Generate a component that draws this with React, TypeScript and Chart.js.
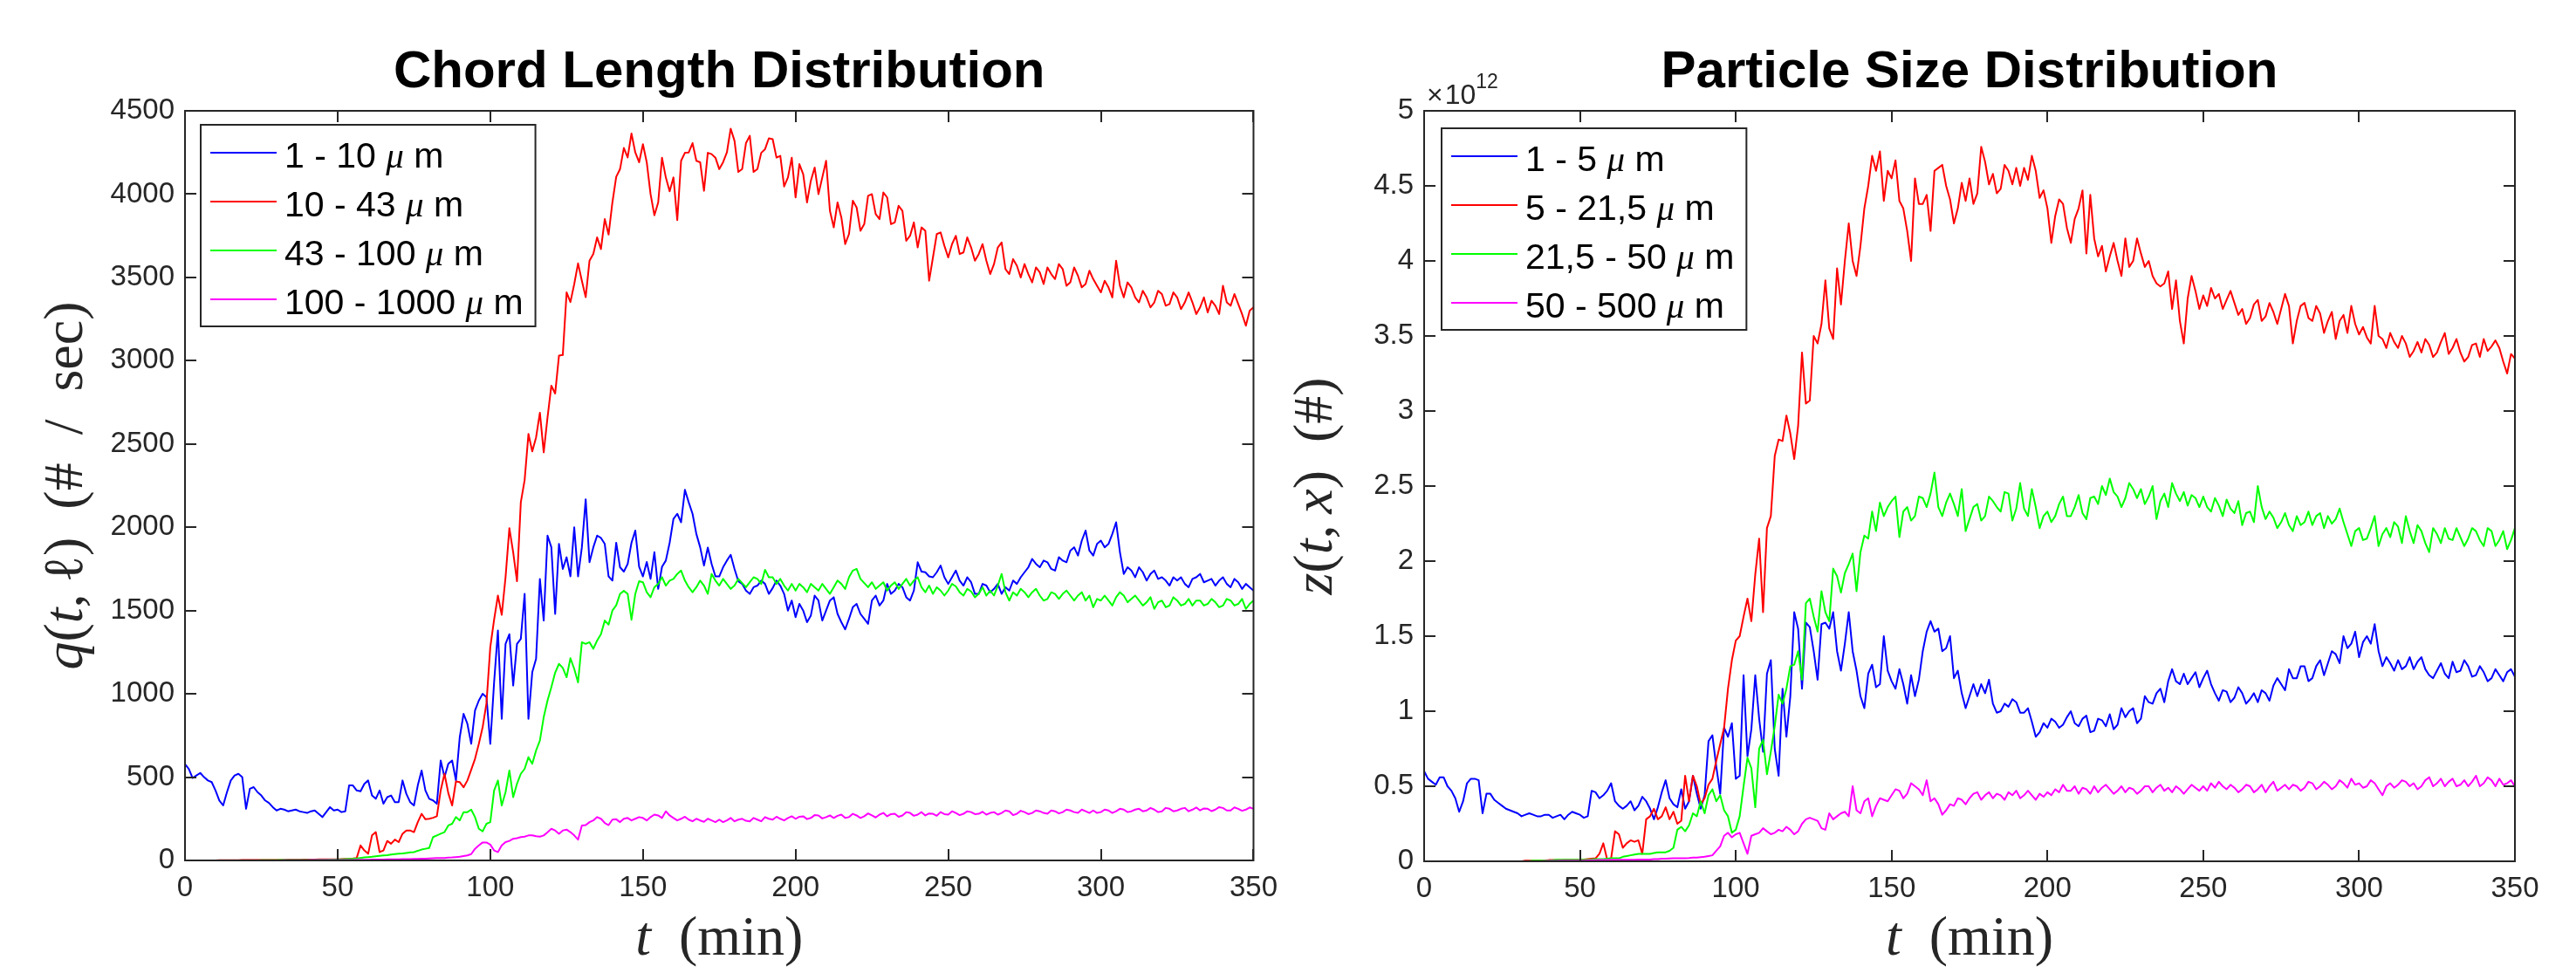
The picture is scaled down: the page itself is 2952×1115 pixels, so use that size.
import React, { useEffect, useRef } from 'react';
import { Chart, registerables } from 'chart.js';

Chart.register(...registerables);

// ---------- data ----------
// main sampling grid (min)
const TIME = [
  0, 2.5, 5, 7.5, 10, 12.5, 15, 17.5, 20, 22.5,
  25, 27.5, 30, 32.5, 35, 37.5, 40, 42.5, 45, 47.5,
  50, 52.5, 55, 57.5, 60, 62.5, 65, 67.5, 70, 72.5,
  75, 77.5, 80, 82.5, 85, 87.5, 90, 92.5, 95, 97.5,
  100, 102.5, 105, 107.5, 110, 112.5, 115, 117.5, 120, 122.5,
  125, 127.5, 130, 132.5, 135, 137.5, 140, 142.5, 145, 147.5,
  150, 152.5, 155, 157.5, 160, 162.5, 165, 167.5, 170, 172.5,
  175, 177.5, 180, 182.5, 185, 187.5, 190, 192.5, 195, 197.5,
  200, 202.5, 205, 207.5, 210, 212.5, 215, 217.5, 220, 222.5,
  225, 227.5, 230, 232.5, 235, 237.5, 240, 242.5, 245, 247.5,
  250, 252.5, 255, 257.5, 260, 262.5, 265, 267.5, 270, 272.5,
  275, 277.5, 280, 282.5, 285, 287.5, 290, 292.5, 295, 297.5,
  300, 302.5, 305, 307.5, 310, 312.5, 315, 317.5, 320, 322.5,
  325, 327.5, 330, 332.5, 335, 337.5, 340, 342.5, 345, 347.5,
  350,
];
// in-between samples (min)
const TIME_MID = [
  1.25, 3.75, 6.25, 8.75, 11.25, 13.75, 16.25, 18.75, 21.25, 23.75,
  26.25, 28.75, 31.25, 33.75, 36.25, 38.75, 41.25, 43.75, 46.25, 48.75,
  51.25, 53.75, 56.25, 58.75, 61.25, 63.75, 66.25, 68.75, 71.25, 73.75,
  76.25, 78.75, 81.25, 83.75, 86.25, 88.75, 91.25, 93.75, 96.25, 98.75,
  101.25, 103.75, 106.25, 108.75, 111.25, 113.75, 116.25, 118.75, 121.25, 123.75,
  126.25, 128.75, 131.25, 133.75, 136.25, 138.75, 141.25, 143.75, 146.25, 148.75,
  151.25, 153.75, 156.25, 158.75, 161.25, 163.75, 166.25, 168.75, 171.25, 173.75,
  176.25, 178.75, 181.25, 183.75, 186.25, 188.75, 191.25, 193.75, 196.25, 198.75,
  201.25, 203.75, 206.25, 208.75, 211.25, 213.75, 216.25, 218.75, 221.25, 223.75,
  226.25, 228.75, 231.25, 233.75, 236.25, 238.75, 241.25, 243.75, 246.25, 248.75,
  251.25, 253.75, 256.25, 258.75, 261.25, 263.75, 266.25, 268.75, 271.25, 273.75,
  276.25, 278.75, 281.25, 283.75, 286.25, 288.75, 291.25, 293.75, 296.25, 298.75,
  301.25, 303.75, 306.25, 308.75, 311.25, 313.75, 316.25, 318.75, 321.25, 323.75,
  326.25, 328.75, 331.25, 333.75, 336.25, 338.75, 341.25, 343.75, 346.25, 348.75,
];

// Chord length distribution q(t, l) (# / sec)
const CLD_1_10 = [
  578, 495, 525, 480, 420, 330, 480, 520, 310, 440,
  390, 345, 300, 305, 300, 295, 285, 300, 260, 320,
  305, 295, 450, 415, 480, 370, 340, 390, 350, 400,
  330, 540, 370, 340, 500, 600, 740, 820, 900, 1000,
  700, 1380, 1300, 1050, 1330, 850, 1210, 1440, 1880, 1900,
  1820, 2000, 1880, 1790, 1950, 1900, 1680, 1760, 1780, 1980,
  1705, 1690, 1630, 1800, 2050, 2030, 2150, 1960, 1770, 1780,
  1705, 1800, 1750, 1660, 1600, 1650, 1660, 1635, 1650, 1500,
  1460, 1500, 1470, 1560, 1500, 1580, 1430, 1450, 1540, 1450,
  1560, 1530, 1660, 1620, 1640, 1560, 1790, 1730, 1700, 1770,
  1660, 1740, 1650, 1670, 1600, 1650, 1630, 1600, 1620, 1660,
  1730, 1810, 1760, 1790, 1740, 1800, 1860, 1830, 1980, 1830,
  1920, 1900, 2030, 1720, 1740, 1760, 1680, 1740, 1700, 1650,
  1680, 1660, 1690, 1720, 1680, 1650, 1700, 1640, 1670, 1660,
  1620,
];
const CLD_1_10_MID = [
  550, 510, 500, 470, 360, 410, 510, 500, 430, 410,
  360, 320, 310, 295, 305, 290, 295, 280, 290, 300,
  290, 450, 420, 460, 390, 420, 380, 350, 480, 350,
  450, 420, 360, 600, 580, 480, 880, 700, 960, 980,
  1069, 850, 1358, 1300, 1600, 1130, 1690, 1950, 1480, 1750,
  1705, 1705, 2168, 1880, 1936, 1705, 1907, 1734, 1907, 1763,
  1792, 1850, 1763, 1907, 2081, 2225, 2081, 1880, 1878, 1705,
  1760, 1835, 1676, 1620, 1640, 1680, 1600, 1680, 1600, 1560,
  1540, 1430, 1590, 1440, 1560, 1480, 1387, 1520, 1480, 1420,
  1590, 1560, 1600, 1660, 1580, 1620, 1734, 1705, 1730, 1700,
  1700, 1680, 1700, 1600, 1660, 1610, 1660, 1640, 1680, 1700,
  1760, 1780, 1800, 1750, 1820, 1790, 1880, 1920, 1860, 1900,
  1880, 1960, 1850, 1760, 1700, 1730, 1720, 1690, 1680, 1700,
  1700, 1640, 1700, 1670, 1690, 1680, 1660, 1690, 1630, 1640,
];
const CLD_10_43 = [
  0, 0, 0, 0, 0, 1, 1, 1, 2, 2,
  2, 3, 3, 3, 4, 4, 5, 5, 6, 6,
  7, 9, 12, 90, 40, 170, 60, 100, 110, 180,
  170, 280, 250, 265, 520, 330, 470, 480, 610, 800,
  1280, 1590, 1700, 1850, 2150, 2560, 2540, 2450, 2850, 3030,
  3410, 3460, 3480, 3600, 3740, 3850, 3950, 4150, 4220, 4250,
  4300, 4000, 3950, 4100, 4100, 4200, 4250, 4200, 4020, 4240,
  4150, 4250, 4320, 4150, 4350, 4150, 4270, 4330, 4230, 4100,
  3980, 4120, 4080, 4000, 4200, 3800, 3860, 3760, 3920, 3820,
  4000, 3850, 3980, 3830, 3900, 3750, 3680, 3780, 3620, 3770,
  3620, 3750, 3650, 3680, 3640, 3600, 3580, 3710, 3520, 3570,
  3580, 3470, 3530, 3560, 3490, 3550, 3470, 3510, 3460, 3490,
  3410, 3440, 3600, 3380, 3440, 3350, 3380, 3350, 3400, 3340,
  3380, 3350, 3350, 3320, 3290, 3330, 3450, 3330, 3340, 3210,
  3320,
];
const CLD_10_43_MID = [
  0, 0, 0, 0, 1, 1, 1, 2, 2, 2,
  3, 3, 3, 4, 4, 5, 5, 6, 6, 7,
  8, 10, 15, 60, 150, 50, 117, 125, 160, 180,
  230, 247, 256, 420, 404, 474, 439, 544, 700, 944,
  1445, 1474, 1994, 1676, 2283, 2456, 2688, 2659, 2803, 3034,
  3352, 3584, 3381, 3641, 3670, 3757, 4104, 4277, 4364, 4191,
  4191, 3873, 4219, 4017, 3844, 4248, 4306, 4191, 4248, 4219,
  4191, 4393, 4133, 4306, 4133, 4248, 4335, 4219, 4046, 4219,
  4180, 3950, 4160, 4100, 3900, 3950, 3700, 3960, 3780, 3990,
  3880, 4010, 3820, 3930, 3720, 3830, 3800, 3480, 3760, 3690,
  3700, 3640, 3740, 3600, 3700, 3520, 3680, 3550, 3610, 3500,
  3520, 3560, 3460, 3520, 3580, 3450, 3560, 3440, 3540, 3450,
  3480, 3380, 3450, 3470, 3380, 3420, 3320, 3420, 3330, 3410,
  3310, 3410, 3280, 3380, 3360, 3280, 3350, 3400, 3280, 3300,
];
const CLD_43_100 = [
  0, 0, 0, 0, 0, 0, 0, 0, 0, 0,
  1, 1, 1, 2, 2, 2, 3, 3, 4, 5,
  6, 8, 10, 15, 20, 25, 30, 35, 40, 45,
  50, 65, 75, 150, 170, 220, 240, 290, 260, 175,
  230, 480, 410, 380, 520, 620, 660, 860, 1040, 1180,
  1100, 1150, 1310, 1310, 1320, 1440, 1500, 1600, 1600, 1600,
  1670, 1580, 1660, 1650, 1690, 1740, 1640, 1640, 1650, 1720,
  1650, 1660, 1650, 1665, 1670, 1690, 1745, 1700, 1690, 1620,
  1620, 1640, 1660, 1620, 1630, 1640, 1660, 1700, 1750, 1665,
  1670, 1650, 1620, 1670, 1660, 1650, 1700, 1610, 1600, 1620,
  1620, 1645, 1590, 1615, 1600, 1590, 1590, 1720, 1560, 1590,
  1610, 1610, 1590, 1570, 1600, 1600, 1590, 1590, 1560, 1520,
  1560, 1560, 1580, 1590, 1570, 1560, 1550, 1510, 1560, 1530,
  1560, 1540, 1530, 1560, 1540, 1550, 1530, 1560, 1540, 1510,
  1560,
];
const CLD_43_100_MID = [
  0, 0, 0, 0, 0, 0, 0, 0, 0, 0,
  1, 1, 2, 2, 2, 3, 3, 4, 4, 5,
  7, 9, 12, 18, 22, 28, 32, 38, 42, 48,
  58, 70, 140, 160, 210, 260, 290, 305, 190, 220,
  420, 330, 540, 460, 550, 580, 720, 960, 1127, 1156,
  1214, 1069, 1300, 1271, 1358, 1416, 1532, 1618, 1445, 1676,
  1610, 1640, 1700, 1680, 1720, 1680, 1610, 1680, 1600, 1680,
  1690, 1630, 1690, 1640, 1700, 1660, 1700, 1660, 1650, 1660,
  1660, 1610, 1640, 1660, 1600, 1680, 1630, 1740, 1690, 1640,
  1630, 1670, 1650, 1630, 1690, 1680, 1640, 1650, 1640, 1590,
  1660, 1610, 1630, 1580, 1640, 1620, 1650, 1610, 1610, 1630,
  1580, 1630, 1560, 1610, 1570, 1620, 1560, 1610, 1590, 1570,
  1590, 1530, 1610, 1550, 1590, 1530, 1580, 1550, 1520, 1580,
  1530, 1570, 1560, 1530, 1570, 1520, 1570, 1530, 1570, 1540,
];
const CLD_100_1000 = [
  0, 0, 0, 0, 0, 0, 0, 0, 0, 0,
  0, 0, 0, 1, 1, 1, 1, 2, 2, 2,
  2, 3, 3, 4, 4, 5, 5, 6, 7, 8,
  9, 10, 12, 14, 15, 18, 22, 30, 70, 108,
  95, 50, 110, 130, 140, 150, 145, 150, 190, 160,
  185, 150, 210, 230, 260, 225, 245, 230, 255, 250,
  255, 260, 270, 295, 255, 250, 245, 250, 232, 240,
  245, 240, 235, 250, 235, 245, 260, 245, 250, 255,
  250, 265, 255, 270, 260, 255, 275, 260, 270, 265,
  270, 275, 265, 280, 270, 285, 275, 270, 280, 290,
  275, 285, 280, 290, 280, 275, 290, 285, 295, 280,
  290, 285, 295, 280, 295, 290, 300, 285, 295, 300,
  290, 300, 295, 305, 295, 310, 300, 305, 295, 310,
  300, 315, 305, 300, 310, 305, 315, 300, 310, 305,
  310,
];
const CLD_100_1000_MID = [
  0, 0, 0, 0, 0, 0, 0, 0, 0, 0,
  0, 0, 0, 1, 1, 1, 2, 2, 2, 2,
  3, 3, 4, 4, 5, 5, 6, 6, 8, 8,
  9, 11, 13, 14, 17, 20, 26, 38, 90, 108,
  60, 90, 117, 134, 143, 151, 143, 169, 180, 180,
  170, 125, 212, 240, 250, 212, 247, 250, 240, 260,
  240, 275, 255, 270, 240, 262, 235, 240, 250, 230,
  230, 255, 245, 238, 255, 235, 250, 262, 240, 265,
  262, 248, 272, 252, 270, 268, 255, 280, 255, 282,
  258, 285, 278, 262, 290, 268, 290, 282, 268, 278,
  295, 272, 295, 278, 292, 285, 275, 300, 272, 298,
  278, 300, 285, 300, 282, 305, 290, 305, 285, 285,
  305, 285, 310, 290, 305, 295, 315, 290, 315, 295,
  310, 295, 318, 312, 296, 320, 300, 318, 298, 318,
];

// Particle size distribution z(t, x) (#), in units of 10^12
const PSD_START_1_5 = 0;
const PSD_1_5 = [
  0.60, 0.53, 0.56, 0.50, 0.42, 0.40, 0.55, 0.54, 0.45, 0.41,
  0.37, 0.34, 0.32, 0.31, 0.31, 0.30, 0.31, 0.30, 0.28, 0.33,
  0.31, 0.30, 0.46, 0.44, 0.52, 0.37, 0.37, 0.34, 0.43, 0.35,
  0.36, 0.54, 0.38, 0.48, 0.40, 0.45, 0.44, 0.84, 0.45, 0.83,
  0.55, 1.24, 0.88, 0.95, 1.25, 0.75, 1.15, 1.10, 1.55, 1.59,
  1.40, 1.58, 1.55, 1.40, 1.45, 1.40, 1.10, 1.25, 1.16, 1.50,
  1.20, 1.28, 1.05, 1.10, 1.40, 1.60, 1.55, 1.42, 1.22, 1.12,
  1.10, 1.10, 1.12, 1.05, 1.00, 1.03, 1.06, 0.99, 0.93, 0.86,
  0.89, 0.93, 0.91, 1.00, 0.90, 0.97, 0.87, 0.94, 0.98, 0.91,
  0.96, 1.02, 0.95, 1.06, 1.12, 1.06, 1.28, 1.18, 1.18, 1.26,
  1.22, 1.18, 1.07, 1.13, 1.09, 1.12, 1.08, 1.06, 1.12, 1.17,
  1.18, 1.28, 1.22, 1.30, 1.22, 1.34, 1.32, 1.38, 1.50, 1.45,
  1.36, 1.50, 1.58, 1.30, 1.32, 1.34, 1.30, 1.28, 1.36, 1.24,
  1.27, 1.25, 1.33, 1.27, 1.30, 1.24, 1.26, 1.22, 1.24, 1.26,
  1.23,
];
const PSD_1_5_MID = [
  0.55, 0.51, 0.56, 0.47, 0.33, 0.52, 0.55, 0.32, 0.45, 0.39,
  0.35, 0.33, 0.30, 0.32, 0.30, 0.31, 0.29, 0.31, 0.31, 0.32,
  0.29, 0.47, 0.42, 0.47, 0.40, 0.35, 0.40, 0.37, 0.40, 0.28,
  0.46, 0.42, 0.36, 0.35, 0.57, 0.35, 0.80, 0.63, 0.89, 0.92,
  0.57, 0.70, 1.24, 0.73, 1.34, 0.57, 0.83, 1.66, 1.15, 1.56,
  1.21, 1.59, 1.66, 1.27, 1.66, 1.27, 1.02, 1.31, 1.18, 1.27,
  1.15, 1.18, 1.24, 1.21, 1.53, 1.53, 1.40, 1.50, 1.27, 1.02,
  1.18, 1.18, 1.21, 0.99, 1.05, 1.08, 0.99, 1.02, 0.83, 0.92,
  0.95, 0.89, 0.96, 0.92, 0.95, 0.86, 0.95, 0.90, 0.88, 1.02,
  1.00, 0.92, 1.10, 1.05, 1.15, 1.20, 1.20, 1.25, 1.22, 1.16,
  1.27, 1.12, 1.14, 1.06, 1.16, 1.05, 1.12, 1.14, 1.07, 1.22,
  1.14, 1.22, 1.30, 1.20, 1.30, 1.24, 1.40, 1.32, 1.42, 1.53,
  1.46, 1.45, 1.40, 1.36, 1.27, 1.28, 1.36, 1.33, 1.28, 1.22,
  1.32, 1.22, 1.26, 1.34, 1.23, 1.30, 1.20, 1.28, 1.20, 1.28,
];
const PSD_5_215 = [
  0, 0, 0, 0, 0, 0, 0, 0, 0, 0,
  0, 0, 0, 0.005, 0.005, 0.005, 0.008, 0.008, 0.01, 0.01,
  0.01, 0.015, 0.02, 0.12, 0.02, 0.18, 0.12, 0.13, 0.05, 0.30,
  0.28, 0.36, 0.33, 0.27, 0.40, 0.50, 0.42, 0.55, 0.78, 1.15,
  1.47, 1.63, 1.60, 2.15, 2.22, 2.70, 2.80, 2.85, 2.90, 3.05,
  3.50, 3.58, 3.55, 3.95, 4.00, 4.00, 4.10, 4.50, 4.60, 4.40,
  4.55, 4.40, 4.20, 4.55, 4.38, 4.20, 4.62, 4.50, 4.25, 4.52,
  4.55, 4.45, 4.66, 4.58, 4.48, 4.60, 4.62, 4.62, 4.70, 4.42,
  4.35, 4.30, 4.38, 4.12, 4.35, 4.05, 4.15, 4.10, 4.03, 4.00,
  4.15, 4.00, 4.05, 4.00, 3.85, 3.85, 3.68, 3.60, 3.75, 3.80,
  3.77, 3.82, 3.78, 3.74, 3.72, 3.68, 3.62, 3.74, 3.63, 3.66,
  3.68, 3.70, 3.60, 3.72, 3.60, 3.65, 3.60, 3.48, 3.64, 3.70,
  3.51, 3.49, 3.70, 3.48, 3.52, 3.42, 3.45, 3.40, 3.39, 3.44,
  3.39, 3.52, 3.42, 3.39, 3.36, 3.45, 3.48, 3.43, 3.42, 3.25,
  3.35,
];
const PSD_5_215_MID = [
  0, 0, 0, 0, 0, 0, 0, 0, 0, 0,
  0, 0, 0, 0.005, 0.005, 0.006, 0.008, 0.009, 0.01, 0.01,
  0.012, 0.018, 0.05, 0.01, 0.20, 0.09, 0.14, 0.14, 0.28, 0.35,
  0.30, 0.28, 0.25, 0.57, 0.57, 0.38, 0.51, 0.67, 0.89, 1.34,
  1.50, 1.75, 1.91, 1.66, 2.30, 2.81, 2.97, 2.68, 3.39, 3.07,
  3.45, 3.87, 3.48, 3.71, 4.25, 3.90, 4.35, 4.70, 4.73, 4.60,
  4.67, 4.35, 4.00, 4.38, 4.44, 4.60, 4.64, 4.41, 4.35, 4.40,
  4.38, 4.76, 4.51, 4.45, 4.64, 4.51, 4.50, 4.54, 4.60, 4.47,
  4.12, 4.41, 4.22, 4.28, 4.47, 4.44, 4.03, 3.93, 4.12, 3.90,
  3.96, 4.15, 3.96, 3.90, 3.83, 3.93, 3.87, 3.45, 3.90, 3.68,
  3.70, 3.75, 3.68, 3.80, 3.64, 3.58, 3.71, 3.60, 3.72, 3.58,
  3.78, 3.45, 3.70, 3.62, 3.70, 3.52, 3.66, 3.60, 3.52, 3.58,
  3.56, 3.45, 3.50, 3.42, 3.46, 3.50, 3.36, 3.46, 3.48, 3.36,
  3.46, 3.38, 3.48, 3.33, 3.44, 3.36, 3.40, 3.47, 3.33, 3.38,
];
const PSD_215_50 = [
  0, 0, 0, 0, 0, 0, 0, 0, 0, 0,
  0, 0, 0, 0, 0.005, 0.005, 0.005, 0.01, 0.01, 0.01,
  0.01, 0.01, 0.015, 0.015, 0.02, 0.02, 0.035, 0.045, 0.05, 0.05,
  0.06, 0.06, 0.09, 0.23, 0.24, 0.30, 0.32, 0.48, 0.44, 0.30,
  0.21, 0.50, 0.62, 0.75, 0.58, 0.90, 1.05, 1.30, 1.40, 1.72,
  1.63, 1.80, 1.60, 1.90, 1.92, 2.05, 2.06, 2.15, 2.20, 2.30,
  2.40, 2.16, 2.36, 2.30, 2.42, 2.45, 2.36, 2.39, 2.38, 2.48,
  2.28, 2.38, 2.30, 2.40, 2.33, 2.45, 2.35, 2.35, 2.48, 2.22,
  2.33, 2.30, 2.43, 2.30, 2.44, 2.28, 2.43, 2.50, 2.55, 2.43,
  2.42, 2.48, 2.48, 2.43, 2.28, 2.45, 2.52, 2.40, 2.37, 2.42,
  2.43, 2.33, 2.37, 2.41, 2.32, 2.24, 2.33, 2.50, 2.28, 2.29,
  2.26, 2.24, 2.30, 2.26, 2.24, 2.32, 2.30, 2.28, 2.26, 2.10,
  2.22, 2.15, 2.30, 2.18, 2.16, 2.23, 2.30, 2.12, 2.20, 2.06,
  2.18, 2.22, 2.14, 2.16, 2.15, 2.20, 2.10, 2.20, 2.14, 2.08,
  2.22,
];
const PSD_215_50_MID = [
  0, 0, 0, 0, 0, 0, 0, 0, 0, 0,
  0, 0, 0, 0.002, 0.005, 0.005, 0.008, 0.01, 0.01, 0.01,
  0.01, 0.012, 0.015, 0.018, 0.02, 0.03, 0.04, 0.05, 0.05, 0.055,
  0.06, 0.07, 0.21, 0.20, 0.32, 0.40, 0.44, 0.40, 0.34, 0.19,
  0.30, 0.69, 0.36, 0.81, 0.73, 1.11, 1.15, 1.31, 1.21, 1.75,
  1.53, 1.66, 1.95, 1.79, 1.98, 1.80, 2.17, 2.33, 2.39, 2.36,
  2.43, 2.33, 2.27, 2.43, 2.36, 2.59, 2.30, 2.45, 2.30, 2.20,
  2.36, 2.27, 2.43, 2.36, 2.46, 2.27, 2.52, 2.30, 2.36, 2.30,
  2.26, 2.38, 2.30, 2.36, 2.32, 2.42, 2.38, 2.44, 2.46, 2.36,
  2.52, 2.42, 2.38, 2.50, 2.40, 2.36, 2.45, 2.46, 2.44, 2.36,
  2.36, 2.42, 2.30, 2.35, 2.40, 2.32, 2.26, 2.36, 2.33, 2.22,
  2.32, 2.20, 2.24, 2.33, 2.30, 2.22, 2.25, 2.35, 2.18, 2.20,
  2.14, 2.22, 2.10, 2.22, 2.26, 2.12, 2.20, 2.24, 2.12, 2.22,
  2.12, 2.15, 2.22, 2.10, 2.22, 2.14, 2.22, 2.10, 2.20, 2.14,
];
const PSD_50_500 = [
  0, 0, 0, 0, 0, 0, 0, 0, 0, 0,
  0, 0, 0, 0, 0, 0, 0.003, 0.003, 0.005, 0.005,
  0.005, 0.006, 0.007, 0.008, 0.01, 0.01, 0.01, 0.01, 0.012, 0.012,
  0.015, 0.018, 0.02, 0.02, 0.022, 0.025, 0.03, 0.04, 0.10, 0.19,
  0.18, 0.12, 0.17, 0.19, 0.20, 0.19, 0.20, 0.21, 0.20, 0.28,
  0.28, 0.22, 0.32, 0.30, 0.33, 0.50, 0.32, 0.42, 0.37, 0.41,
  0.44, 0.47, 0.45, 0.50, 0.44, 0.40, 0.38, 0.34, 0.37, 0.41,
  0.42, 0.46, 0.44, 0.42, 0.44, 0.46, 0.47, 0.44, 0.44, 0.45,
  0.46, 0.48, 0.51, 0.47, 0.45, 0.48, 0.50, 0.49, 0.48, 0.47,
  0.46, 0.48, 0.47, 0.50, 0.49, 0.47, 0.46, 0.48, 0.48, 0.49,
  0.50, 0.52, 0.53, 0.48, 0.49, 0.48, 0.50, 0.48, 0.46, 0.53,
  0.49, 0.48, 0.50, 0.49, 0.52, 0.50, 0.51, 0.50, 0.52, 0.55,
  0.52, 0.50, 0.52, 0.44, 0.52, 0.51, 0.53, 0.52, 0.50, 0.56,
  0.52, 0.50, 0.55, 0.51, 0.50, 0.57, 0.52, 0.54, 0.55, 0.52,
  0.50,
];
const PSD_50_500_MID = [
  0, 0, 0, 0, 0, 0, 0, 0, 0, 0,
  0, 0, 0, 0, 0, 0.002, 0.003, 0.004, 0.005, 0.005,
  0.005, 0.006, 0.008, 0.009, 0.01, 0.01, 0.01, 0.011, 0.012, 0.014,
  0.017, 0.019, 0.02, 0.021, 0.024, 0.028, 0.035, 0.07, 0.17, 0.16,
  0.19, 0.05, 0.18, 0.22, 0.18, 0.21, 0.23, 0.18, 0.25, 0.29,
  0.27, 0.21, 0.28, 0.32, 0.30, 0.34, 0.40, 0.30, 0.42, 0.40,
  0.48, 0.42, 0.52, 0.48, 0.54, 0.42, 0.31, 0.38, 0.42, 0.38,
  0.45, 0.41, 0.46, 0.45, 0.41, 0.44, 0.42, 0.47, 0.41, 0.43,
  0.44, 0.46, 0.47, 0.50, 0.49, 0.45, 0.46, 0.51, 0.45, 0.50,
  0.49, 0.45, 0.50, 0.46, 0.51, 0.49, 0.50, 0.45, 0.51, 0.47,
  0.47, 0.49, 0.50, 0.51, 0.46, 0.51, 0.46, 0.51, 0.50, 0.47,
  0.51, 0.51, 0.47, 0.53, 0.48, 0.53, 0.48, 0.54, 0.49, 0.51,
  0.49, 0.54, 0.48, 0.50, 0.49, 0.54, 0.50, 0.48, 0.54, 0.50,
  0.55, 0.53, 0.50, 0.54, 0.53, 0.50, 0.56, 0.50, 0.51, 0.54,
];

const CLD_LABELS = ['1 - 10', '10 - 43', '43 - 100', '100 - 1000'];
const PSD_LABELS = ['1 - 5', '5 - 21,5', '21,5 - 50', '50 - 500'];
const X_TICKS = [0, 50, 100, 150, 200, 250, 300, 350];
const CLD_Y_TICKS = [0, 500, 1000, 1500, 2000, 2500, 3000, 3500, 4000, 4500];
const PSD_Y_TICKS = [0, 0.5, 1, 1.5, 2, 2.5, 3, 3.5, 4, 4.5, 5];

// ---------- styles ----------
const COLORS = ['#0000ff', '#ff0000', '#00ff00', '#ff00ff'];
const SANS = '"Liberation Sans", Arial, Helvetica, sans-serif';
const SERIF = '"Liberation Serif", "Times New Roman", "DejaVu Serif", serif';
const AXIS = '#262626';
const TICK_LEN = 13;
const CANVAS_W = 1476;
const CANVAS_H = 1115;

type Seg = { t: string; f: string };
type Pt = { x: number; y: number };

function drawRich(ctx: CanvasRenderingContext2D, segs: Seg[], x: number, y: number, rotate: boolean) {
  ctx.save();
  ctx.translate(x, y);
  if (rotate) ctx.rotate(-Math.PI / 2);
  ctx.textAlign = 'left';
  ctx.textBaseline = 'alphabetic';
  let total = 0;
  const ws = segs.map((s) => {
    ctx.font = s.f;
    const w = ctx.measureText(s.t).width;
    total += w;
    return w;
  });
  let cx = -total / 2;
  segs.forEach((s, i) => {
    ctx.font = s.f;
    ctx.fillText(s.t, cx, 0);
    cx += ws[i];
  });
  ctx.restore();
}

// merge main grid samples with in-between samples, in time order
function toPts(vals: number[], mids: number[]): Pt[] {
  const out: Pt[] = [];
  TIME.forEach((t, i) => {
    out.push({ x: t, y: vals[i] });
    if (i < TIME_MID.length) out.push({ x: TIME_MID[i], y: mids[i] });
  });
  return out;
}

type Panel = {
  key: string;
  title: string;
  series: Pt[][];
  labels: string[];
  yTicks: number[];
  yMax: number;
  yAxisW: number;
  xAxisH: number;
  padRight: number;
  yLabel: Seg[];
  yLabelX: number;
  legendDX: number;
  legendDY: number;
  exponent: boolean;
};

const LAB = 64;
const IT = `italic ${LAB}px ${SERIF}`;
const RM = `${LAB}px ${SERIF}`;

const LEFT: Panel = {
  key: 'cld',
  title: 'Chord Length Distribution',
  series: [
    toPts(CLD_1_10, CLD_1_10_MID),
    toPts(CLD_10_43, CLD_10_43_MID),
    toPts(CLD_43_100, CLD_43_100_MID),
    toPts(CLD_100_1000, CLD_100_1000_MID),
  ],
  labels: CLD_LABELS,
  yTicks: CLD_Y_TICKS,
  yMax: 4500,
  yAxisW: 212,
  xAxisH: 129,
  padRight: 36,
  yLabel: [
    { t: 'q', f: IT },
    { t: '(', f: RM },
    { t: 't', f: IT },
    { t: ',\u2009', f: RM },
    { t: '\u2113', f: RM },
    { t: ')\u2002(#\u2002/\u2002sec)', f: RM },
  ],
  yLabelX: 94,
  legendDX: 18,
  legendDY: 16,
  exponent: false,
};

const RIGHT: Panel = {
  key: 'psd',
  title: 'Particle Size Distribution',
  series: [
    [{ x: TIME[0], y: PSD_START_1_5 }, ...toPts(PSD_1_5, PSD_1_5_MID)],
    toPts(PSD_5_215, PSD_5_215_MID),
    toPts(PSD_215_50, PSD_215_50_MID),
    toPts(PSD_50_500, PSD_50_500_MID),
  ],
  labels: PSD_LABELS,
  yTicks: PSD_Y_TICKS,
  yMax: 5,
  yAxisW: 156,
  xAxisH: 128,
  padRight: 70,
  yLabel: [
    { t: 'z', f: IT },
    { t: '(', f: RM },
    { t: 't', f: IT },
    { t: ',\u2009', f: RM },
    { t: 'x', f: IT },
    { t: ')\u2002(#)', f: RM },
  ],
  yLabelX: 50,
  legendDX: 20,
  legendDY: 20,
  exponent: true,
};

function panelPlugin(p: Panel) {
  return {
    id: 'panel_' + p.key,
    afterDatasetsDraw(chart: any) {
      const { ctx, chartArea: a, scales } = chart;
      const xs = scales.x;
      const ys = scales.y;
      ctx.save();
      // axes box with inward ticks on all four sides
      ctx.strokeStyle = AXIS;
      ctx.lineWidth = 2;
      ctx.beginPath();
      ctx.rect(a.left, a.top, a.right - a.left, a.bottom - a.top);
      X_TICKS.forEach((v) => {
        const px = Math.round(xs.getPixelForValue(v));
        ctx.moveTo(px, a.bottom);
        ctx.lineTo(px, a.bottom - TICK_LEN);
        ctx.moveTo(px, a.top);
        ctx.lineTo(px, a.top + TICK_LEN);
      });
      p.yTicks.forEach((v) => {
        const py = Math.round(ys.getPixelForValue(v));
        ctx.moveTo(a.left, py);
        ctx.lineTo(a.left + TICK_LEN, py);
        ctx.moveTo(a.right, py);
        ctx.lineTo(a.right - TICK_LEN, py);
      });
      ctx.stroke();

      // legend
      const fs = 41;
      const sans = `${fs}px ${SANS}`;
      const mu = `italic ${fs}px ${SERIF}`;
      const segsFor = (lab: string): Seg[] => [
        { t: lab + ' ', f: sans },
        { t: '\u03bc', f: mu },
        { t: ' m', f: sans },
      ];
      let maxW = 0;
      p.labels.forEach((lab) => {
        let w = 0;
        segsFor(lab).forEach((s) => {
          ctx.font = s.f;
          w += ctx.measureText(s.t).width;
        });
        maxW = Math.max(maxW, w);
      });
      const lx = a.left + p.legendDX;
      const ly = a.top + p.legendDY;
      const lw = 96 + maxW + 14;
      const lh = 231;
      ctx.fillStyle = '#ffffff';
      ctx.fillRect(lx, ly, lw, lh);
      ctx.strokeStyle = AXIS;
      ctx.lineWidth = 2;
      ctx.strokeRect(lx, ly, lw, lh);
      p.labels.forEach((lab, i) => {
        const ry = ly + 32 + i * 56;
        ctx.strokeStyle = COLORS[i];
        ctx.lineWidth = 2;
        ctx.beginPath();
        ctx.moveTo(lx + 11, ry);
        ctx.lineTo(lx + 87, ry);
        ctx.stroke();
        let cx = lx + 96;
        ctx.fillStyle = '#000000';
        ctx.textAlign = 'left';
        ctx.textBaseline = 'alphabetic';
        segsFor(lab).forEach((s) => {
          ctx.font = s.f;
          ctx.fillText(s.t, cx, ry + 17);
          cx += ctx.measureText(s.t).width;
        });
      });
      ctx.restore();
    },
    afterDraw(chart: any) {
      const { ctx, chartArea: a } = chart;
      const cx = (a.left + a.right) / 2;
      ctx.save();
      ctx.fillStyle = '#000000';
      ctx.font = `bold 60px ${SANS}`;
      ctx.textAlign = 'center';
      ctx.textBaseline = 'alphabetic';
      ctx.fillText(p.title, cx, 100);

      ctx.fillStyle = AXIS;
      drawRich(ctx, [
        { t: 't', f: IT },
        { t: '\u2002(min)', f: RM },
      ], cx, 1094, false);
      drawRich(ctx, p.yLabel, p.yLabelX, (a.top + a.bottom) / 2, true);

      if (p.exponent) {
        ctx.textAlign = 'left';
        ctx.textBaseline = 'alphabetic';
        ctx.font = `32px ${SANS}`;
        let ex = a.left + 3;
        ctx.fillText('\u00d7', ex, 119);
        ex += ctx.measureText('\u00d7').width + 2;
        ctx.fillText('10', ex, 119);
        ex += ctx.measureText('10').width;
        ctx.font = `23px ${SANS}`;
        ctx.fillText('12', ex, 101);
      }
      ctx.restore();
    },
  };
}

function makeConfig(p: Panel): any {
  const tickFont = { family: SANS, size: 33 };
  return {
    type: 'line',
    data: {
      datasets: p.series.map((pts, i) => ({
        label: p.labels[i],
        data: pts,
        borderColor: COLORS[i],
        backgroundColor: COLORS[i],
        borderWidth: 2,
        pointRadius: 0,
        tension: 0,
        fill: false,
        borderJoinStyle: 'round',
        order: 4 - i,
      })),
    },
    options: {
      animation: false,
      responsive: false,
      devicePixelRatio: 1,
      events: [],
      layout: { padding: { left: 0, top: 127, right: p.padRight, bottom: 0 } },
      plugins: {
        legend: { display: false },
        tooltip: { enabled: false },
        title: { display: false },
      },
      scales: {
        x: {
          type: 'linear',
          min: 0,
          max: 350,
          afterBuildTicks: (s: any) => {
            s.ticks = X_TICKS.map((v) => ({ value: v }));
          },
          afterFit: (s: any) => {
            s.height = p.xAxisH;
          },
          grid: { display: false, drawTicks: false },
          border: { display: false },
          ticks: {
            font: tickFont,
            color: AXIS,
            padding: 12,
            maxRotation: 0,
            autoSkip: false,
            callback: (v: any) => String(v),
          },
        },
        y: {
          type: 'linear',
          min: 0,
          max: p.yMax,
          afterBuildTicks: (s: any) => {
            s.ticks = p.yTicks.map((v) => ({ value: v }));
          },
          afterFit: (s: any) => {
            s.width = p.yAxisW;
          },
          grid: { display: false, drawTicks: false },
          border: { display: false },
          ticks: {
            font: tickFont,
            color: AXIS,
            padding: 12,
            autoSkip: false,
            callback: (v: any) => String(v),
          },
        },
      },
    },
    plugins: [panelPlugin(p)],
  };
}

export default function App() {
  const leftRef = useRef<HTMLCanvasElement>(null);
  const rightRef = useRef<HTMLCanvasElement>(null);

  useEffect(() => {
    document.body.style.margin = '0';
    const c1 = new Chart(leftRef.current as HTMLCanvasElement, makeConfig(LEFT));
    const c2 = new Chart(rightRef.current as HTMLCanvasElement, makeConfig(RIGHT));
    return () => {
      c1.destroy();
      c2.destroy();
    };
  }, []);

  return (
    <div style={{ position: 'relative', width: CANVAS_W * 2, height: CANVAS_H, background: '#ffffff', overflow: 'hidden' }}>
      <canvas
        ref={leftRef}
        width={CANVAS_W}
        height={CANVAS_H}
        style={{ position: 'absolute', left: 0, top: 0, width: CANVAS_W, height: CANVAS_H }}
      />
      <canvas
        ref={rightRef}
        width={CANVAS_W}
        height={CANVAS_H}
        style={{ position: 'absolute', left: CANVAS_W, top: 0, width: CANVAS_W, height: CANVAS_H }}
      />
    </div>
  );
}
